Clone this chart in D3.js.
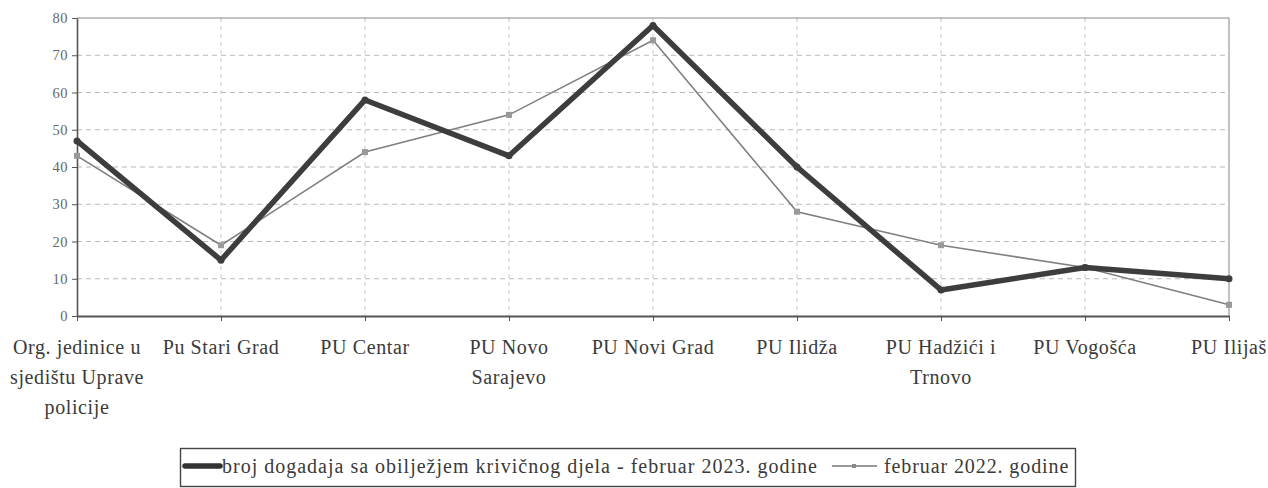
<!DOCTYPE html>
<html lang="bs">
<head>
<meta charset="utf-8">
<title>Februar 2023 / 2022</title>
<script src="https://d3js.org/d3.v7.min.js"></script>
<style>
  body { margin: 0; background: #fff; }
  text { font-family: "Liberation Serif", "DejaVu Serif", serif; }
</style>
</head>
<body>
<div id="chart"></div>
<script>
// podaci ocitani sa grafika
var categories = [
  ["Org. jedinice u", "sjedištu Uprave", "policije"],
  ["Pu Stari Grad"],
  ["PU Centar"],
  ["PU Novo", "Sarajevo"],
  ["PU Novi Grad"],
  ["PU Ilidža"],
  ["PU Hadžići i", "Trnovo"],
  ["PU Vogošća"],
  ["PU Ilijaš"]
];
var feb2023 = [47, 15, 58, 43, 78, 40, 7, 13, 10];
var feb2022 = [43, 19, 44, 54, 74, 28, 19, 13, 3];
var yTicks = [0, 10, 20, 30, 40, 50, 60, 70, 80];
var legend2023 = "broj dogadaja sa obilježjem krivičnog djela - februar 2023. godine";
var legend2022 = "februar 2022. godine";

var W = 1268, H = 488;
var margin = {top: 18, right: 39, bottom: 172, left: 77},
    width = W - margin.left - margin.right,
    height = H - margin.top - margin.bottom;

var svg = d3.select("#chart").append("svg")
    .attr("width", W)
    .attr("height", H);

var g = svg.append("g")
    .attr("transform", "translate(" + margin.left + "," + margin.top + ")");

var x = d3.scalePoint()
    .domain(d3.range(categories.length))
    .range([0, width])
    .padding(0);

var y = d3.scaleLinear()
    .domain([0, 80])
    .range([height, 0]);

// horizontal grid
g.append("g")
  .selectAll("line")
  .data(yTicks.filter(function(d) { return d > 0 && d < 80; }))
  .enter().append("line")
    .attr("x1", 0).attr("x2", width)
    .attr("y1", function(d) { return y(d); })
    .attr("y2", function(d) { return y(d); })
    .attr("stroke", "#b8b8b8")
    .attr("stroke-dasharray", "5,4");

// vertical grid
g.append("g")
  .selectAll("line")
  .data(d3.range(1, categories.length - 1))
  .enter().append("line")
    .attr("x1", function(d) { return x(d); })
    .attr("x2", function(d) { return x(d); })
    .attr("y1", 0).attr("y2", height)
    .attr("stroke", "#c8c8c8")
    .attr("stroke-dasharray", "4,4");

// frame top + right
g.append("line").attr("x1", 0).attr("x2", width).attr("y1", 0).attr("y2", 0)
  .attr("stroke", "#888").attr("stroke-width", 1.2);
g.append("line").attr("x1", width).attr("x2", width).attr("y1", 0).attr("y2", height)
  .attr("stroke", "#999").attr("stroke-width", 1.2);

// y axis
var yAxis = g.append("g")
    .call(d3.axisLeft(y).tickValues(yTicks).tickSize(5).tickSizeOuter(0));
yAxis.select(".domain").attr("stroke", "#555").attr("stroke-width", 1.6);
yAxis.selectAll(".tick line").attr("stroke", "#555");
yAxis.selectAll(".tick text")
    .attr("x", -9)
    .style("font-size", "14.5px")
    .style("font-family", "'Liberation Serif', serif")
    .style("letter-spacing", "0.5px")
    .attr("fill", "#666");

// x axis
var xAxis = g.append("g")
    .attr("transform", "translate(0," + height + ")")
    .call(d3.axisBottom(x).tickSize(5).tickSizeOuter(0).tickFormat(""));
xAxis.select(".domain").attr("stroke", "#555").attr("stroke-width", 1.8);
xAxis.selectAll(".tick line").attr("stroke", "#555");

// category labels
var lbl = g.append("g").selectAll("text")
  .data(categories)
  .enter().append("text")
    .attr("text-anchor", "middle")
    .attr("fill", "#3a3a3a")
    .style("font-size", "20px")
    .style("letter-spacing", "0.6px")
    .attr("transform", function(d, i) { return "translate(" + x(i) + "," + (height + 38) + ")"; });
lbl.selectAll("tspan")
  .data(function(d) { return d; })
  .enter().append("tspan")
    .attr("x", 0)
    .attr("dy", function(d, i) { return i === 0 ? 0 : 30; })
    .text(function(d) { return d; });

// lines
var line = d3.line()
    .x(function(d, i) { return x(i); })
    .y(function(d) { return y(d); });

g.append("path")
    .datum(feb2022)
    .attr("fill", "none")
    .attr("stroke", "#808080")
    .attr("stroke-width", 1.6)
    .attr("d", line);

g.append("g").selectAll("rect")
  .data(feb2022)
  .enter().append("rect")
    .attr("x", function(d, i) { return x(i) - 3; })
    .attr("y", function(d) { return y(d) - 3; })
    .attr("width", 6).attr("height", 6)
    .attr("fill", "#999");

g.append("path")
    .datum(feb2023)
    .attr("fill", "none")
    .attr("stroke", "#3d3d3d")
    .attr("stroke-width", 5.5)
    .attr("stroke-linejoin", "round")
    .attr("d", line);

g.append("g").selectAll("circle")
  .data(feb2023)
  .enter().append("circle")
    .attr("cx", function(d, i) { return x(i); })
    .attr("cy", function(d) { return y(d); })
    .attr("r", 3.5)
    .attr("fill", "#3d3d3d");

// legend
var lg = svg.append("g");
lg.append("rect")
    .attr("x", 180.5).attr("y", 448.5)
    .attr("width", 895).attr("height", 38)
    .attr("fill", "#fff")
    .attr("stroke", "#444")
    .attr("stroke-width", 1.4);

lg.append("line")
    .attr("x1", 185).attr("x2", 220).attr("y1", 466).attr("y2", 466)
    .attr("stroke", "#333").attr("stroke-width", 5.5).attr("stroke-linecap", "round");

lg.append("text")
    .attr("x", 222).attr("y", 473)
    .attr("fill", "#3a3a3a")
    .style("font-size", "20px")
    .style("letter-spacing", "1px")
    .text(legend2023);

lg.append("line")
    .attr("x1", 832).attr("x2", 877).attr("y1", 466).attr("y2", 466)
    .attr("stroke", "#777").attr("stroke-width", 1.4);
lg.append("rect")
    .attr("x", 852).attr("y", 464).attr("width", 4).attr("height", 4)
    .attr("fill", "#888");

lg.append("text")
    .attr("x", 884).attr("y", 473)
    .attr("fill", "#3a3a3a")
    .style("font-size", "20px")
    .style("letter-spacing", "0.9px")
    .text(legend2022);
</script>
</body>
</html>
